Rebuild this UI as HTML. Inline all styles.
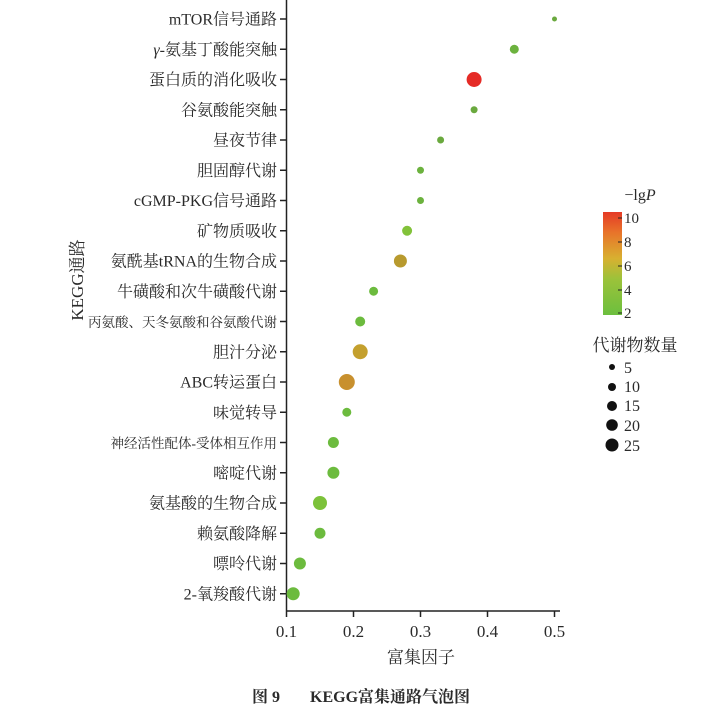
<!DOCTYPE html>
<html><head><meta charset="utf-8"><style>
body{margin:0;background:#fff;}
svg text{font-family:"Liberation Serif","Noto Serif CJK SC",serif;fill:#2a2a2a;}
</style></head><body>
<svg width="722" height="713" viewBox="0 0 722 713" xmlns="http://www.w3.org/2000/svg">
<defs><linearGradient id="g" x1="0" y1="1" x2="0" y2="0">
<stop offset="0" stop-color="#6cbf3e"/><stop offset="0.35" stop-color="#9cc23a"/><stop offset="0.55" stop-color="#d8b030"/><stop offset="0.8" stop-color="#e8742a"/><stop offset="1" stop-color="#e53a26"/></linearGradient></defs>
<line x1="286.5" y1="0" x2="286.5" y2="611" stroke="#222" stroke-width="1.5"/>
<line x1="286" y1="611" x2="560" y2="611" stroke="#222" stroke-width="1.5"/>
<g stroke="#222" stroke-width="1.5">
<line x1="286.5" y1="611" x2="286.5" y2="617"/><line x1="353.5" y1="611" x2="353.5" y2="617"/><line x1="420.5" y1="611" x2="420.5" y2="617"/><line x1="487.5" y1="611" x2="487.5" y2="617"/><line x1="554.5" y1="611" x2="554.5" y2="617"/>
</g>
<g font-size="17" text-anchor="middle">
<text x="286.5" y="637">0.1</text><text x="353.5" y="637">0.2</text><text x="420.5" y="637">0.3</text><text x="487.5" y="637">0.4</text><text x="554.5" y="637">0.5</text>
</g>
<text x="421" y="663" font-size="17" text-anchor="middle">富集因子</text>
<text transform="translate(83,280) rotate(-90)" font-size="17" text-anchor="middle">KEGG通路</text>
<g id="rows" font-size="16" text-anchor="end"></g>
<g id="dots"></g>
<text x="640" y="200" font-size="16" text-anchor="middle">−lg<tspan font-style="italic">P</tspan></text>
<rect x="603" y="212" width="19" height="103" fill="url(#g)"/>
<g font-size="15" stroke="#222">
<line x1="618" y1="218" x2="622" y2="218"/><line x1="618" y1="242" x2="622" y2="242"/><line x1="618" y1="266" x2="622" y2="266"/><line x1="618" y1="290" x2="622" y2="290"/><line x1="618" y1="313" x2="622" y2="313"/>
</g>
<g font-size="15"><text x="624" y="223">10</text><text x="624" y="247">8</text><text x="624" y="271">6</text><text x="624" y="295">4</text><text x="624" y="318">2</text></g>
<text x="635" y="351" font-size="17" text-anchor="middle">代谢物数量</text>
<g fill="#111"><circle cx="612" cy="367" r="3"/><circle cx="612" cy="387" r="4"/><circle cx="612" cy="406" r="5"/><circle cx="612" cy="425" r="5.8"/><circle cx="612" cy="445" r="6.5"/></g>
<g font-size="16"><text x="624" y="373">5</text><text x="624" y="392">10</text><text x="624" y="411">15</text><text x="624" y="431">20</text><text x="624" y="451">25</text></g>
<text x="361" y="702" font-size="16" font-weight="bold" text-anchor="middle">图 9<tspan dx="30">KEGG富集通路气泡图</tspan></text>
</svg>
<script>
var d=[["mTOR信号通路",.5,2.5,"#6aa93e"],["<tspan font-style='italic'>γ</tspan>-氨基丁酸能突触",.44,4.5,"#6cb23e"],["蛋白质的消化吸收",.38,7.5,"#e52b26"],["谷氨酸能突触",.38,3.5,"#6aa93e"],["昼夜节律",.33,3.5,"#6aa93e"],["胆固醇代谢",.3,3.5,"#6cb23e"],["cGMP-PKG信号通路",.3,3.5,"#6cb23e"],["矿物质吸收",.28,5,"#82c23a"],["氨酰基tRNA的生物合成",.27,6.5,"#b89a2e"],["牛磺酸和次牛磺酸代谢",.23,4.5,"#6cbb3e"],["丙氨酸、天冬氨酸和谷氨酸代谢",.21,5,"#6cbb3e"],["胆汁分泌",.21,7.5,"#c4a02e"],["ABC转运蛋白",.19,8,"#c8902e"],["味觉转导",.19,4.5,"#6cbb3e"],["神经活性配体-受体相互作用",.17,5.5,"#6cbb3e"],["嘧啶代谢",.17,6,"#6cbb3e"],["氨基酸的生物合成",.15,7,"#7cc23a"],["赖氨酸降解",.15,5.5,"#6cbb3e"],["嘌呤代谢",.12,6,"#6cbb3e"],["2-氧羧酸代谢",.11,6.5,"#6cbb3e"]];
var r="",c="";
d.forEach(function(e,i){var y=19+i*30.25;var fs=(i==10||i==14)?13.5:16;
r+="<text x='277' y='"+(y+5.5)+"' font-size='"+fs+"'>"+e[0]+"</text><line x1='280' y1='"+y+"' x2='286.5' y2='"+y+"' stroke='#222' stroke-width='1.5'/>";
c+="<circle cx='"+(286.5+(e[1]-.1)*670)+"' cy='"+y+"' r='"+e[2]+"' fill='"+e[3]+"'/>";});
document.getElementById("rows").innerHTML=r;document.getElementById("dots").innerHTML=c;
</script>
</body></html>
